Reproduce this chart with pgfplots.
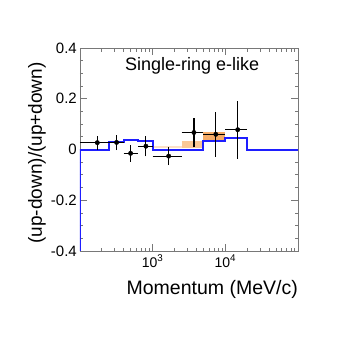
\documentclass[border=0pt]{standalone}
\usepackage{fontspec}
\setmainfont{Liberation Sans}
\usepackage{pgfplots}
\pgfplotsset{compat=1.18}
\definecolor{bandlo}{RGB}{252,224,198}
\definecolor{bandmid}{RGB}{250,200,150}
\definecolor{bandhi}{RGB}{246,172,104}
\definecolor{framegray}{RGB}{120,120,120}
\definecolor{histblue}{RGB}{30,30,255}
\begin{document}
\begin{tikzpicture}
\begin{axis}[
  scale only axis,
  width=218pt, height=203pt,
  xmode=log, xmin=100, xmax=100000,
  ymin=-0.4, ymax=0.4,
  xtick={1000,10000},
  xticklabels={10\textsuperscript{3},10\textsuperscript{4}},
  minor xtick={200,300,400,500,600,700,800,900,2000,3000,4000,5000,6000,7000,8000,9000,20000,30000,40000,50000,60000,70000,80000,90000},
  ytick={-0.4,-0.2,0,0.2,0.4},
  yticklabels={-0.4,-0.2,0,0.2,0.4},
  minor ytick={-0.35,-0.3,-0.25,-0.15,-0.1,-0.05,0.05,0.1,0.15,0.25,0.3,0.35},
  tick align=inside,
  major tick length=7pt, minor tick length=3.5pt,
  axis line style={framegray, line width=0.8pt},
  every tick/.style={framegray, line width=0.8pt},
  yticklabel style={font=\fontsize{15}{15}\selectfont, inner sep=0pt, xshift=-3pt},
  xticklabel style={font=\fontsize{14}{14}\selectfont, inner sep=0pt, anchor=base, yshift=-16pt},
  xlabel={Momentum (MeV/c)},
  xlabel style={font=\fontsize{19.5}{20}\selectfont, at={(axis description cs:1,-0.212)}, anchor=base east, inner sep=0pt},
  ylabel={(up-down)/(up+down)},
  ylabel style={font=\fontsize{19}{20}\selectfont, at={(axis description cs:-0.197,0.483)}, anchor=center, inner sep=0pt},
  title={Single-ring e-like},
  title style={font=\fontsize{18}{18}\selectfont, at={(axis description cs:0.514,0.885)}, anchor=center, inner sep=0pt},
  unbounded coords=jump,
]
% systematic bands
\addplot[fill=bandlo, draw=none] coordinates {(1000,0.005) (2500,0.005) (2500,0.014) (1000,0.014)};
\addplot[fill=bandmid, draw=none] coordinates {(2500,0.005) (5000,0.005) (5000,0.035) (2500,0.035)};
\addplot[fill=bandhi, draw=none] coordinates {(5000,0.035) (10000,0.035) (10000,0.068) (5000,0.068)};
% MC histogram
\addplot[draw=histblue, line width=2pt, const plot mark left, mark=none] coordinates {
  (100,-0.4) (100,0) (250,0.028) (400,0.039) (630,0.032) (1000,0)
  (5000,0.035) (10000,0.045) (20000,0) (100000,0)};
% data error bars
\addplot[black, line width=1.1pt, mark=none] table {
x y
100 0.027
250 0.027
nan nan
173 -0.001
173 0.055
nan nan
250 0.028
400 0.028
nan nan
319 -0.002
319 0.058
nan nan
400 -0.015
630 -0.015
nan nan
497 -0.048
497 0.018
nan nan
630 0.013
1000 0.013
nan nan
807 -0.027
807 0.053
nan nan
1000 -0.026
2500 -0.026
nan nan
1660 -0.062
1660 0.010
nan nan
2500 0.067
5000 0.067
nan nan
3700 0.008
3700 0.126
nan nan
5000 0.060
10000 0.060
nan nan
7400 -0.028
7400 0.148
nan nan
10000 0.078
20000 0.078
nan nan
14800 -0.036
14800 0.192
};
\addplot[only marks, mark=*, mark size=2.2pt, black] coordinates {
  (173,0.027) (319,0.028) (497,-0.015) (807,0.013) (1660,-0.026)
  (3700,0.067) (7400,0.060) (14800,0.078)};
\end{axis}
\pgfresetboundingbox
\path (-80pt,-95pt) rectangle (266pt,251pt);
\end{tikzpicture}
\end{document}
